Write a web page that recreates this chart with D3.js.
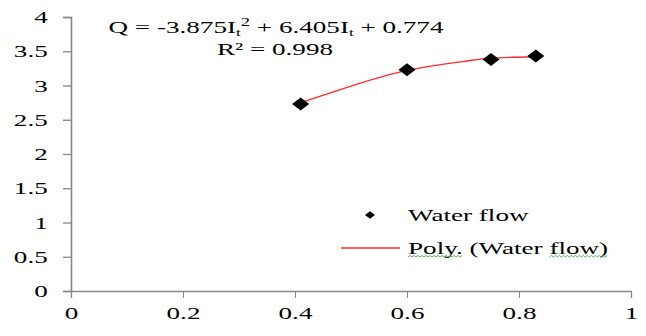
<!DOCTYPE html>
<html>
<head>
<meta charset="utf-8">
<script src="https://cdn.jsdelivr.net/npm/d3@7"></script>
<style>
  body { margin: 0; background: #fff; }
  svg { display: block; font-family: "Liberation Serif", "Times New Roman", serif; }
  .axis path, .axis line { stroke: #868686; }
  .axis text { fill: #000; font-size: 17.5px; font-family: "Liberation Serif", serif; }
</style>
</head>
<body>
<script>
  // data
  const flowX = [0.41, 0.6, 0.75, 0.83];
  const flowY = [2.73, 3.23, 3.38, 3.43];
  const trendX = [0.41, 0.5, 0.6, 0.7, 0.75, 0.83];
  const trendY = [2.75, 2.99, 3.22, 3.35, 3.40, 3.42];
  const xTicks = [0, 0.2, 0.4, 0.6, 0.8, 1];
  const yTicks = [0, 0.5, 1, 1.5, 2, 2.5, 3, 3.5, 4];

  const w = 646, h = 336;
  const sx = 1.55; // picture is stretched sideways

  const svg = d3.select("body").append("svg")
    .attr("width", w)
    .attr("height", h);

  const x = d3.scaleLinear().domain([0, 1]).range([71, 631]);
  const y = d3.scaleLinear().domain([0, 4]).range([291, 17]);

  const gx = svg.append("g")
    .attr("class", "axis")
    .attr("transform", "translate(0," + y(0) + ")")
    .call(d3.axisBottom(x).tickValues(xTicks).tickFormat(d3.format("")).tickSize(7).tickPadding(9).tickSizeOuter(7));
  gx.selectAll("text").attr("transform", "scale(" + sx + ",1)");
  gx.select(".domain").attr("stroke-width", 1.3);

  const gy = svg.append("g")
    .attr("class", "axis")
    .attr("transform", "translate(" + x(0) + ",0)")
    .call(d3.axisLeft(y).tickValues(yTicks).tickFormat(d3.format("")).tickSize(8).tickPadding(7).tickSizeOuter(8));
  gy.selectAll("text").attr("transform", "scale(" + sx + ",1)");
  gy.select(".domain").attr("stroke-width", 1.6);
  gy.selectAll(".tick line").attr("stroke-width", 1.3);

  // trend line
  const trend = trendX.map((d, i) => [d, trendY[i]]);
  svg.append("path")
    .datum(trend)
    .attr("fill", "none")
    .attr("stroke", "#ff2a2a")
    .attr("stroke-width", 1.3)
    .attr("d", d3.line().x(d => x(d[0])).y(d => y(d[1])).curve(d3.curveNatural));

  // points
  const diamond = d3.symbol().type(d3.symbolDiamond).size(49);
  svg.selectAll(".pt")
    .data(flowX.map((d, i) => [d, flowY[i]]))
    .enter()
    .append("path")
    .attr("class", "pt")
    .attr("d", diamond)
    .attr("fill", "#000")
    .attr("transform", d => "translate(" + x(d[0]) + "," + y(d[1]) + ") scale(2.27,1)");

  // equation
  const eq = svg.append("text")
    .attr("transform", "translate(276,33) scale(" + sx + ",1)")
    .attr("text-anchor", "middle")
    .attr("font-size", "17.5px")
    .attr("fill", "#000");
  eq.append("tspan").text("Q = -3.875I");
  eq.append("tspan").attr("font-size", "11px").attr("dy", 3).text("t");
  eq.append("tspan").attr("font-size", "12px").attr("dy", -10).text("2");
  eq.append("tspan").attr("dy", 7).text(" + 6.405I");
  eq.append("tspan").attr("font-size", "11px").attr("dy", 3).text("t");
  eq.append("tspan").attr("dy", -3).text(" + 0.774");

  svg.append("text")
    .attr("transform", "translate(275,55) scale(" + sx + ",1)")
    .attr("text-anchor", "middle")
    .attr("font-size", "17.5px")
    .attr("fill", "#000")
    .text("R² = 0.998");

  // legend
  const lg = svg.append("g");
  lg.append("path")
    .attr("d", d3.symbol().type(d3.symbolDiamond).size(17))
    .attr("fill", "#000")
    .attr("transform", "translate(370,215) scale(2.25,1)");
  lg.append("text")
    .attr("transform", "translate(408,221) scale(" + sx + ",1)")
    .attr("font-size", "17.5px")
    .attr("fill", "#000")
    .text("Water flow");
  lg.append("line")
    .attr("x1", 341).attr("x2", 400)
    .attr("y1", 248).attr("y2", 248)
    .attr("stroke", "#ff2a2a")
    .attr("stroke-width", 1.3);
  const pl = lg.append("text")
    .attr("transform", "translate(408,254) scale(" + sx + ",1)")
    .attr("font-size", "17.5px")
    .attr("fill", "#000");
  const t1 = pl.append("tspan").text("Poly.");
  pl.append("tspan").text(" (Water ");
  const t2 = pl.append("tspan").text("flow)");

  // spell-check squiggles
  function squiggle(ts) {
    const b = ts.node().getBBox();
    const x0 = 408 + b.x * sx, x1 = 408 + (b.x + b.width) * sx;
    let d = "M" + x0 + ",257";
    let k = 0;
    for (let xx = x0 + 2; xx <= x1; xx += 2, k++) d += "L" + xx + "," + (k % 2 ? 257 : 255.5);
    lg.append("path").attr("d", d).attr("fill", "none").attr("stroke", "#4aa84a").attr("stroke-width", 0.9);
  }
  squiggle(t1);
  squiggle(t2);
</script>
</body>
</html>
